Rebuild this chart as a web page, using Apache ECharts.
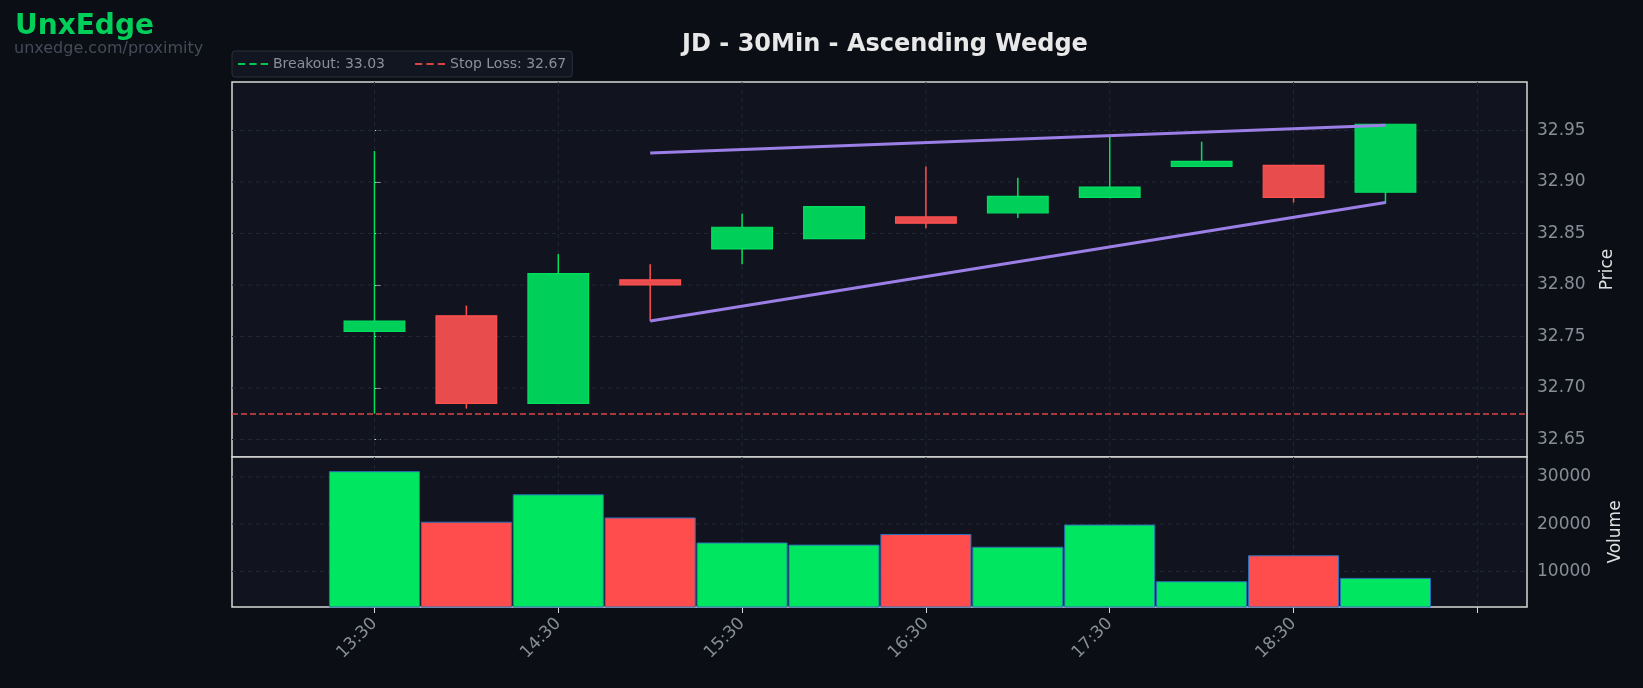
<!DOCTYPE html>
<html><head><meta charset="utf-8">
<script src="https://cdn.jsdelivr.net/npm/echarts@6/dist/echarts.min.js"></script>
<style>html,body{margin:0;padding:0;background:#0b0e15;}#c{width:1643px;height:688px;}</style>
</head><body><div id="c"></div>
<script>
const times = ['13:30','14:00','14:30','15:00','15:30','16:00','16:30','17:00','17:30','18:00','18:30','19:00','19:30'];
const opens  = [32.755,32.770,32.685,32.805,32.835,32.845,32.866,32.870,32.885,32.915,32.916,32.890];
const closes = [32.765,32.685,32.811,32.800,32.856,32.876,32.860,32.886,32.895,32.920,32.885,32.956];
const lows   = [32.675,32.680,32.685,32.765,32.820,32.845,32.855,32.865,32.884,32.915,32.880,32.879];
const highs  = [32.930,32.780,32.830,32.820,32.869,32.876,32.915,32.904,32.944,32.939,32.916,32.956];
const volumes = [31100,20400,26200,21300,16000,15550,17800,15100,19800,7800,13300,8500];
const upperLine = [[3,32.928],[11,32.955]];
const lowerLine = [[3,32.765],[11,32.880]];
const breakout = 33.03, stopLoss = 32.675;
const priceTicks = [32.65,32.70,32.75,32.80,32.85,32.90,32.95];
const volTicks = [10000,20000,30000];
const xTicks = [0,2,4,6,8,10,12];

const GREEN='#00d05a', RED='#e84c4c', VGREEN='#00e660', VRED='#ff4d4d';
const candleData = opens.map((o,i)=>[i,o,closes[i],lows[i],highs[i]]);
const volData = volumes.map((v,i)=>[i,v,closes[i]>=opens[i]?1:0]);
const gridC = '#232836';
const xr = {min:-1.55,max:12.54};
const dashIcon = 'path://M0,0h7v2h-7z M11,0h7v2h-7z M22,0h7v2h-7z';

function gridSeries(xi, yTicks){
  const d = yTicks.map(v=>[0,v]).concat(xTicks.map(v=>[1,v]));
  return {type:'custom',xAxisIndex:xi,yAxisIndex:xi,data:d,z:1,silent:true,
    renderItem:(params,api)=>{
      const kind=api.value(0),v=api.value(1);
      const cs=params.coordSys;
      let s;
      if(kind===0){const p=api.coord([xr.min,v]);s={x1:cs.x,y1:p[1],x2:cs.x+cs.width,y2:p[1]};}
      else{const p=api.coord([v,0]);s={x1:p[0],y1:cs.y,x2:p[0],y2:cs.y+cs.height};}
      return {type:'line',shape:s,style:{stroke:gridC,lineWidth:1,lineDash:[4,4]}};
    }};
}

const chart = echarts.init(document.getElementById('c'));
chart.setOption({
  backgroundColor:'#0b0e15',
  animation:false,
  title:[
    {text:'JD - 30Min - Ascending Wedge',left:880,textAlign:'center',top:28,textStyle:{color:'#e8e8e8',fontSize:24,fontWeight:'bold',fontFamily:'DejaVu Sans'}},
    {text:'UnxEdge',left:10,top:8,textStyle:{color:'#00d05a',fontSize:28,fontWeight:'bold',fontFamily:'DejaVu Sans'}},
    {text:'unxedge.com/proximity',left:9,top:36,textStyle:{color:'#454b58',fontSize:16,fontWeight:'normal',fontFamily:'DejaVu Sans'}}
  ],
  legend:{left:232,top:51,itemGap:30,itemWidth:30,itemHeight:3,padding:[6,6,6,6],
    backgroundColor:'#121621',borderColor:'#2a2f3b',borderWidth:1,borderRadius:3,
    textStyle:{color:'#8a8f9a',fontSize:14,fontFamily:'DejaVu Sans'},
    data:[{name:'Breakout: 33.03',icon:dashIcon},{name:'Stop Loss: 32.67',icon:dashIcon}]},
  grid:[
    {left:232,right:116,top:82,height:375,show:true,backgroundColor:'#11141f',borderColor:'#d8d8d8',borderWidth:1.5},
    {left:232,right:116,top:457,height:150,show:true,backgroundColor:'#11141f',borderColor:'#d8d8d8',borderWidth:1.5}
  ],
  xAxis:[
    Object.assign({type:'value',gridIndex:0,axisLine:{show:false},axisTick:{show:false},axisLabel:{show:false},splitLine:{show:false}},xr),
    Object.assign({type:'value',gridIndex:1,axisLine:{show:false},
      axisTick:{show:true,customValues:xTicks,length:6,lineStyle:{color:'#d8d8d8'}},
      axisLabel:{customValues:xTicks,rotate:45,color:'#888d98',fontSize:17,fontFamily:'DejaVu Sans',margin:14,
        formatter:v=>{const i=Math.round(v);return i<=10?times[i]:'';}},
      splitLine:{show:false}},xr)
  ],
  yAxis:[
    {type:'value',gridIndex:0,position:'right',min:32.633,max:32.997,
      name:'Price',nameLocation:'middle',nameGap:72,nameRotate:90,nameTextStyle:{color:'#e0e0e0',fontSize:17,fontFamily:'DejaVu Sans'},
      axisLine:{show:false},axisTick:{show:true,customValues:priceTicks,length:6,lineStyle:{color:'#d8d8d8'}},
      axisLabel:{customValues:priceTicks,color:'#888d98',fontSize:17,fontFamily:'DejaVu Sans',margin:10,formatter:v=>v.toFixed(2)},
      splitLine:{show:false}},
    {type:'value',gridIndex:1,position:'right',min:2450,max:34200,
      name:'Volume',nameLocation:'middle',nameGap:80,nameRotate:90,nameTextStyle:{color:'#e0e0e0',fontSize:17,fontFamily:'DejaVu Sans'},
      axisLine:{show:false},axisTick:{show:true,customValues:volTicks,length:6,lineStyle:{color:'#d8d8d8'}},
      axisLabel:{customValues:volTicks,color:'#888d98',fontSize:17,fontFamily:'DejaVu Sans',margin:10,formatter:v=>String(v)},
      splitLine:{show:false}}
  ],
  series:[
    gridSeries(0, priceTicks),
    gridSeries(1, volTicks),
    {type:'custom',xAxisIndex:1,yAxisIndex:1,data:volData,z:3,
      renderItem:(params,api)=>{
        const x=api.value(0),v=api.value(1),up=api.value(2);
        const p0=api.coord([x-0.49,v]),p1=api.coord([x+0.49,2450]);
        return {type:'rect',shape:{x:p0[0],y:p0[1],width:p1[0]-p0[0],height:p1[1]-p0[1]},
          style:{fill:up?VGREEN:VRED,stroke:'#2b6fb8',lineWidth:1}};
      }},
    {type:'custom',xAxisIndex:0,yAxisIndex:0,data:candleData,z:3,
      renderItem:(params,api)=>{
        const x=api.value(0),o=api.value(1),c=api.value(2),l=api.value(3),h=api.value(4);
        const col=c>=o?GREEN:RED;
        const top=api.coord([x-0.33,Math.max(o,c)]),bot=api.coord([x+0.33,Math.min(o,c)]);
        const hi=api.coord([x,h]),lo=api.coord([x,l]);
        return {type:'group',children:[
          {type:'line',shape:{x1:hi[0],y1:hi[1],x2:lo[0],y2:lo[1]},style:{stroke:c>=o?'#00e060':'#ff5050',lineWidth:1.5}},
          {type:'rect',shape:{x:top[0],y:top[1],width:bot[0]-top[0],height:Math.max(bot[1]-top[1],1)},
            style:{fill:col,stroke:c>=o?'#00e060':'#ff5050',lineWidth:1.2}}
        ]};
      }},
    {type:'line',xAxisIndex:0,yAxisIndex:0,data:upperLine,symbol:'none',silent:true,z:4,lineStyle:{color:'#9b7fe6',width:3}},
    {type:'line',xAxisIndex:0,yAxisIndex:0,data:lowerLine,symbol:'none',silent:true,z:4,lineStyle:{color:'#9b7fe6',width:3}},
    {name:'Breakout: 33.03',type:'line',xAxisIndex:0,yAxisIndex:0,data:[],color:'#00c853',z:2,
      lineStyle:{color:'#00c853',type:'dashed',width:2},itemStyle:{color:'#00c853'},symbol:'none',
      markLine:{symbol:'none',silent:true,precision:4,label:{show:false},lineStyle:{color:'#00c853',type:'dashed',width:1.5},data:[{yAxis:breakout}]}},
    {name:'Stop Loss: 32.67',type:'line',xAxisIndex:0,yAxisIndex:0,data:[],color:'#d64545',z:2,
      lineStyle:{color:'#d64545',type:'dashed',width:2},itemStyle:{color:'#d64545'},symbol:'none',
      markLine:{symbol:'none',silent:true,precision:4,label:{show:false},lineStyle:{color:'#d64545',type:'dashed',width:1.5},data:[{yAxis:stopLoss}]}}
  ]
});
</script></body></html>
